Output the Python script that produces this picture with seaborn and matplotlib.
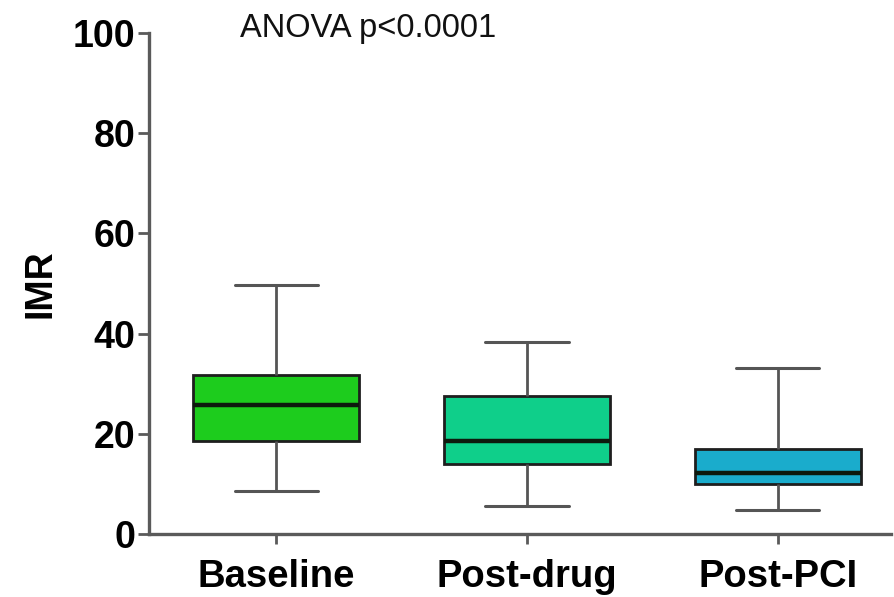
import matplotlib
matplotlib.use("Agg")
import matplotlib.pyplot as plt
import seaborn as sns
import pandas as pd

# Five-number summaries of IMR per stage: min, Q1, median, Q3, max
groups = ["Baseline", "Post-drug", "Post-PCI"]
baseline = [8.5, 18.5, 25.8, 31.8, 49.8]
post_drug = [5.5, 13.9, 18.5, 27.5, 38.4]
post_pci = [4.8, 9.9, 12.2, 17.0, 33.1]
colors = ["#1dcc1d", "#0fcf8a", "#1aaccc"]
y_ticks = [0, 20, 40, 60, 80, 100]

df = pd.DataFrame({
    "group": [g for g, vals in zip(groups, [baseline, post_drug, post_pci]) for _ in vals],
    "IMR": baseline + post_drug + post_pci,
})

sns.set_style("white")
plt.rcParams["font.family"] = ["Liberation Sans", "DejaVu Sans"]

fig = plt.figure(figsize=(8.94, 5.97), dpi=100)
ax = fig.add_axes([0.1667, 0.1055, 0.8300, 0.8392])

sns.boxplot(
    data=df, x="group", y="IMR", hue="group", order=groups,
    palette=colors, saturation=1, legend=False, whis=(0, 100), showfliers=False,
    width=0.663, dodge=False, ax=ax,
    boxprops=dict(edgecolor="#1e1e1e", linewidth=2.0),
    medianprops=dict(color="#0d1a0d", linewidth=3.2),
    whiskerprops=dict(color="#555555", linewidth=2.0),
    capprops=dict(color="#555555", linewidth=2.2),
)

ax.set_xlim(-0.507, 2.451)
ax.set_ylim(0, 100)
ax.set_yticks(y_ticks)
ax.set_yticklabels([str(t) for t in y_ticks], fontsize=27, fontweight="bold", color="black")
ax.set_xticks(range(len(groups)))
ax.set_xticklabels(groups, fontsize=27.5, fontweight="bold", color="black")
ax.set_xlabel("")
ax.set_ylabel("IMR", fontsize=27, fontweight="bold", color="black", labelpad=10)

for side in ["top", "right"]:
    ax.spines[side].set_visible(False)
for side in ["left", "bottom"]:
    ax.spines[side].set_color("#5a5a5a")
    ax.spines[side].set_linewidth(2.4)

ax.tick_params(axis="y", direction="out", length=8, width=2.0, color="#5a5a5a", pad=2, left=True)
ax.tick_params(axis="x", direction="out", length=7, width=2.0, color="#5a5a5a", pad=11, bottom=True)

ax.text(-0.144, 100.9, "ANOVA p<0.0001", fontsize=23.5, ha="left", va="center",
        color="#111111", clip_on=False)

fig.savefig("out.png", dpi=100)
